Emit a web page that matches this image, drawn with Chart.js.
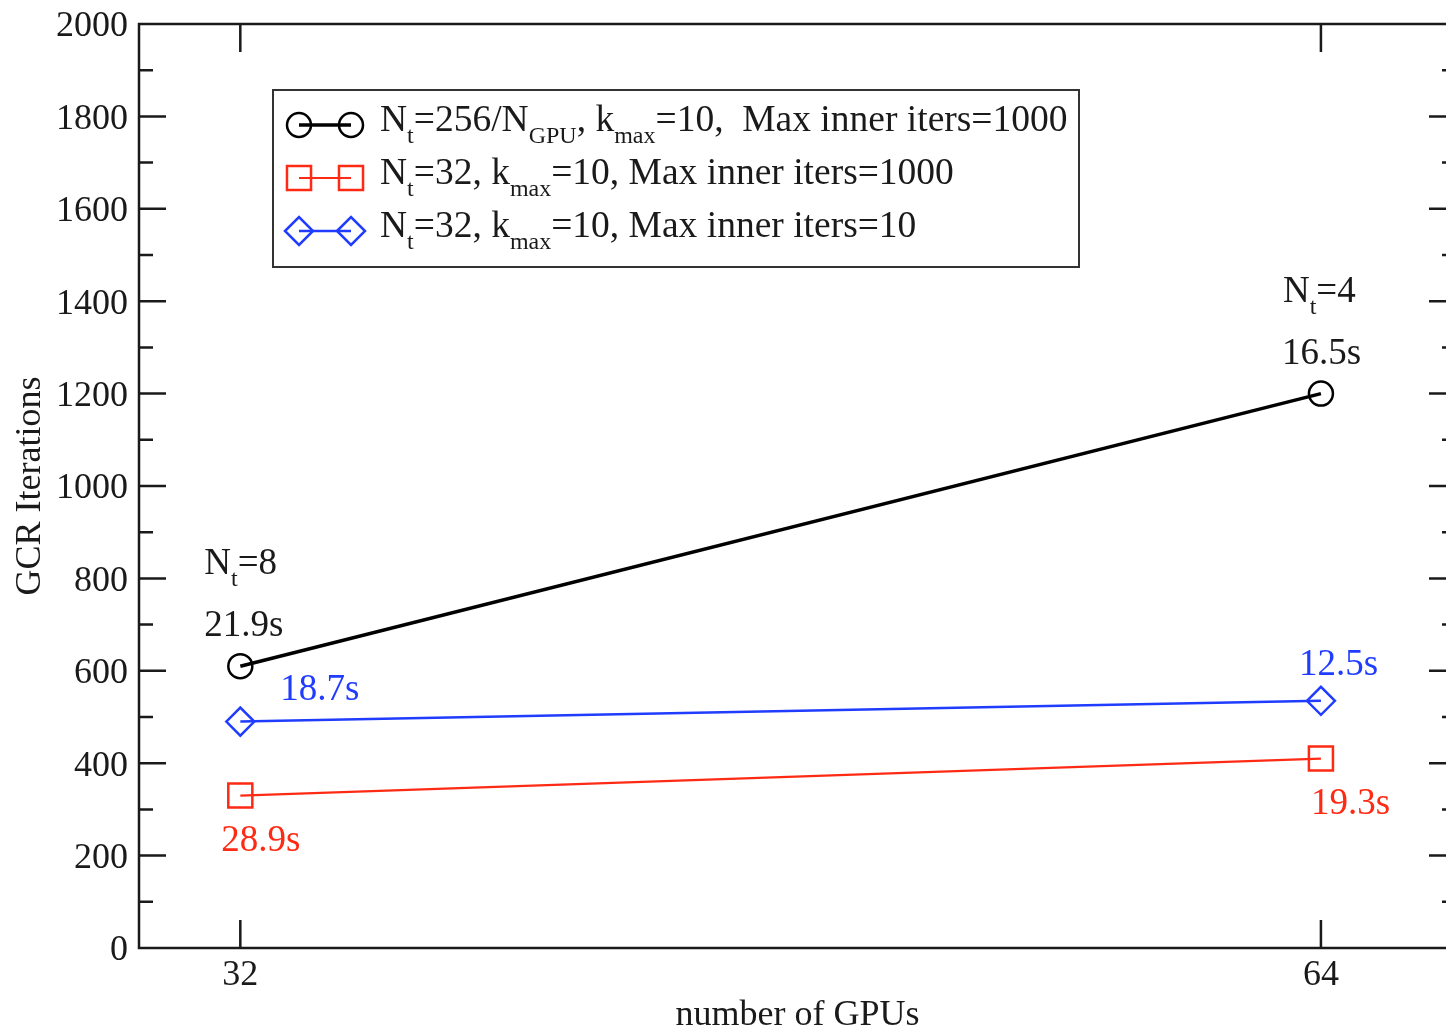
<!DOCTYPE html>
<html>
<head>
<meta charset="utf-8">
<title>GCR iterations vs number of GPUs</title>
<script src="https://cdn.jsdelivr.net/npm/chart.js@4/dist/chart.umd.min.js"></script>
<style>
  html, body { margin: 0; padding: 0; background: #fff; overflow: hidden; }
  #wrap { width: 1446px; height: 1032px; overflow: hidden; }
  #wrap canvas { display: block; filter: blur(0.5px); }
</style>
</head>
<body>
<div id="wrap"><canvas id="gcrChart" width="1480" height="1032" style="width:1480px;height:1032px"></canvas></div>
<script>
// GPU counts on the x axis and the GCR iteration counts per run
const gpuCounts = [32, 64];
const itersNtScaled = [610, 1200];      // N_t = 256/N_GPU, max inner iters 1000
const itersInner1000 = [330, 410];      // N_t = 32, max inner iters 1000
const itersInner10 = [490, 535];        // N_t = 32, max inner iters 10

// wall-clock times printed next to each point
const timesNtScaled = ['21.9s', '16.5s'];
const timesInner1000 = ['28.9s', '19.3s'];
const timesInner10 = ['18.7s', '12.5s'];
const ntPerPoint = ['8', '4'];

const xTicks = [32, 64];
const yTickStep = 200;
const yMinorStep = 100;

// legend texts, [text, 'sub'] marks a subscript run
const seriesLabels = [
  [['N'], ['t', 'sub'], ['=256/N'], ['GPU', 'sub'], [', k'], ['max', 'sub'], ['=10,  Max inner iters=1000']],
  [['N'], ['t', 'sub'], ['=32, k'], ['max', 'sub'], ['=10, Max inner iters=1000']],
  [['N'], ['t', 'sub'], ['=32, k'], ['max', 'sub'], ['=10, Max inner iters=10']]
];

const SERIF = '"Liberation Serif", "Times New Roman", serif';
const INK = '#1a1a1a';
const RED = '#ff2a14';
const BLUE = '#1f3cff';

const toPoints = ys => gpuCounts.map((g, i) => ({ x: g, y: ys[i] }));

function drawRich(ctx, segs, x, y, size, color) {
  const subSize = Math.round(size * 0.65);
  ctx.fillStyle = color;
  ctx.textBaseline = 'alphabetic';
  ctx.textAlign = 'left';
  segs.forEach(([text, kind]) => {
    const sub = kind === 'sub';
    ctx.font = (sub ? subSize : size) + 'px ' + SERIF;
    ctx.fillText(text, x, y + (sub ? 12 : 0));
    x += ctx.measureText(text).width;
  });
}

function marker(ctx, style, x, y, color) {
  ctx.save();
  ctx.strokeStyle = color;
  ctx.fillStyle = 'rgba(0,0,0,0)';
  ctx.lineWidth = style.pointBorderWidth;
  Chart.helpers.drawPoint(ctx, {
    pointStyle: style.pointStyle, radius: style.pointRadius,
    rotation: 0, borderWidth: style.pointBorderWidth
  }, x, y);
  ctx.restore();
}

// frame on all four sides with inward ticks
const frameTicks = {
  id: 'frameTicks',
  beforeDatasetsDraw(chart) {
    const { ctx, chartArea: a, scales: { x, y } } = chart;
    ctx.save();
    ctx.strokeStyle = INK;
    ctx.lineWidth = 2.5;
    ctx.strokeRect(a.left, a.top, a.right - a.left, a.bottom - a.top);
    ctx.beginPath();
    for (let v = y.min + yMinorStep; v < y.max; v += yMinorStep) {
      const py = y.getPixelForValue(v);
      const len = v % yTickStep === 0 ? 27 : 14;
      ctx.moveTo(a.left, py); ctx.lineTo(a.left + len, py);
      ctx.moveTo(a.right, py); ctx.lineTo(a.right - len, py);
    }
    xTicks.forEach(v => {
      const px = x.getPixelForValue(v);
      ctx.moveTo(px, a.bottom); ctx.lineTo(px, a.bottom - 28);
      ctx.moveTo(px, a.top); ctx.lineTo(px, a.top + 28);
    });
    ctx.stroke();
    ctx.restore();
  }
};

// time / N_t notes beside the points, and the boxed legend
const notesAndLegend = {
  id: 'notesAndLegend',
  afterDatasetsDraw(chart) {
    const { ctx, chartArea: a } = chart;
    const pt = (d, j) => chart.getDatasetMeta(d).data[j];
    ctx.save();

    const ntDx = [-36, -38];
    const timeDx = [-36, -39];
    timesNtScaled.forEach((t, j) => {
      const p = pt(0, j);
      drawRich(ctx, [['N'], ['t', 'sub'], ['=' + ntPerPoint[j]]], p.x + ntDx[j], p.y - 92, 37, INK);
      drawRich(ctx, [[t]], p.x + timeDx[j], p.y - 30, 37, INK);
    });
    const redDx = [-19, -10];
    timesInner1000.forEach((t, j) => {
      const p = pt(1, j);
      drawRich(ctx, [[t]], p.x + redDx[j], p.y + 55, 37, RED);
    });
    const blueDx = [40, -22];
    const blueDy = [-22, -26];
    timesInner10.forEach((t, j) => {
      const p = pt(2, j);
      drawRich(ctx, [[t]], p.x + blueDx[j], p.y + blueDy[j], 37, BLUE);
    });

    // legend box
    const bx = a.left + 134, by = a.top + 66, bw = 806, bh = 177;
    ctx.strokeStyle = '#333';
    ctx.lineWidth = 2;
    ctx.strokeRect(bx, by, bw, bh);
    chart.data.datasets.forEach((ds, i) => {
      const cy = by + 35 + i * 53;
      ctx.strokeStyle = ds.borderColor;
      ctx.lineWidth = ds.borderWidth;
      ctx.beginPath();
      ctx.moveTo(bx + 26, cy); ctx.lineTo(bx + 78, cy);
      ctx.stroke();
      marker(ctx, ds, bx + 26, cy, ds.borderColor);
      marker(ctx, ds, bx + 78, cy, ds.borderColor);
      drawRich(ctx, seriesLabels[i], bx + 107, cy + 6, 37.5, INK);
    });
    ctx.restore();
  }
};

const tickFont = { family: SERIF, size: 36 };

new Chart(document.getElementById('gcrChart'), {
  type: 'line',
  data: {
    datasets: [
      {
        data: toPoints(itersNtScaled),
        borderColor: '#000', borderWidth: 3.5,
        pointStyle: 'circle', pointRadius: 12, pointBorderWidth: 2.5,
        pointBackgroundColor: 'rgba(0,0,0,0)', pointBorderColor: '#000'
      },
      {
        data: toPoints(itersInner1000),
        borderColor: RED, borderWidth: 2.2,
        pointStyle: 'rect', pointRadius: 17, pointBorderWidth: 2.5,
        pointBackgroundColor: 'rgba(0,0,0,0)', pointBorderColor: RED
      },
      {
        data: toPoints(itersInner10),
        borderColor: BLUE, borderWidth: 2.5,
        pointStyle: 'rectRot', pointRadius: 14, pointBorderWidth: 2.5,
        pointBackgroundColor: 'rgba(0,0,0,0)', pointBorderColor: BLUE
      }
    ]
  },
  options: {
    responsive: false,
    animation: false,
    layout: { padding: { top: 24, right: 24, left: 0, bottom: 0 } },
    plugins: { legend: { display: false }, tooltip: { enabled: false } },
    scales: {
      x: {
        type: 'linear', min: 29, max: 68,
        grid: { display: false },
        border: { display: false },
        afterBuildTicks: s => { s.ticks = xTicks.map(v => ({ value: v })); },
        afterFit: s => { s.height = 84; s.paddingLeft = 0; s.paddingRight = 0; },
        ticks: { font: tickFont, color: INK, padding: -2, maxRotation: 0, callback: v => String(v) },
        title: {
          display: true, text: 'number of GPUs', color: INK, padding: 0,
          font: { family: SERIF, size: 36, lineHeight: 0.94 }
        }
      },
      y: {
        min: 0, max: 2000,
        grid: { display: false },
        border: { display: false },
        afterFit: s => { s.width = 139; s.paddingTop = 0; s.paddingBottom = 0; },
        ticks: {
          stepSize: yTickStep, font: tickFont, color: INK, padding: 3, labelOffset: 3,
          callback: v => String(v)
        },
        title: {
          display: true, text: 'GCR Iterations', color: INK,
          padding: { top: 9, bottom: 0 },
          font: { family: SERIF, size: 36 }
        }
      }
    }
  },
  plugins: [frameTicks, notesAndLegend]
});
</script>
</body>
</html>
